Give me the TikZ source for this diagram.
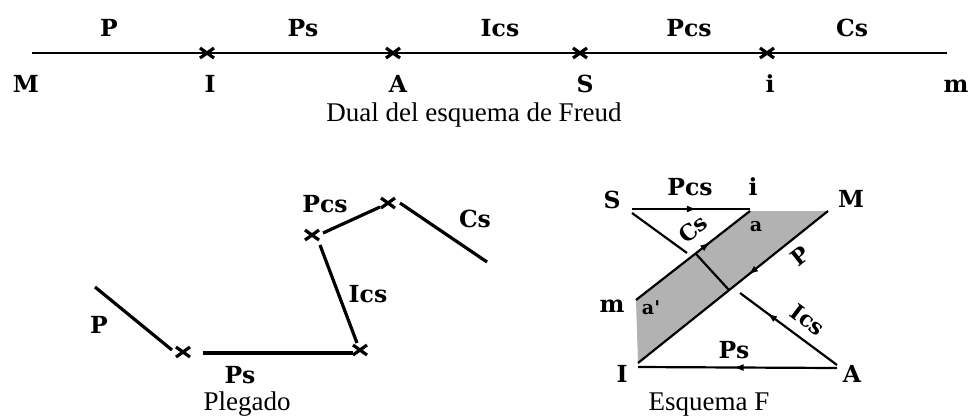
\documentclass[tikz,border=0pt]{standalone}
\usepackage{fontspec}
\setmainfont{Liberation Serif}
\newfontfamily\labfont{DejaVu Serif}
\usetikzlibrary{arrows.meta,decorations.markings}
\begin{document}
\begin{tikzpicture}[x=1pt,y=-1pt,
  lab/.style={font=\labfont\bfseries\fontsize{23.5}{23.5}\selectfont, anchor=base, inner sep=0pt},
  rotlab/.style={font=\labfont\bfseries\fontsize{22}{22}\selectfont, inner sep=0pt},
  smalllab/.style={font=\labfont\bfseries\fontsize{19}{19}\selectfont, anchor=base, inner sep=0pt},
  captext/.style={font=\fontsize{27}{27}\selectfont, anchor=base, inner sep=0pt},
  thinline/.style={line width=2pt},
  foldline/.style={line width=3.2pt},
  fline/.style={line width=2.2pt},
  xmark/.pic={\draw[line width=3.2pt] (-7,-5) -- (7,5) (-7,5) -- (7,-5);},
  midarrow/.style={postaction={decorate}, decoration={markings,
      mark=at position #1 with {\arrow{Latex[length=10pt,width=7pt]}}}}
]
\useasboundingbox (0,0) rectangle (971,416);

% ---------- Dual del esquema de Freud ----------
\coordinate (L0) at (32,53);
\coordinate (L1) at (207,53);
\coordinate (L2) at (393,53);
\coordinate (L3) at (580,53);
\coordinate (L4) at (767,53);
\coordinate (L5) at (947,53);
\draw[thinline] (L0) -- (L5);
\foreach \c in {L1,L2,L3,L4} \pic at (\c) {xmark};
\node[lab] (tP)   at (109,36) {P};
\node[lab] (tPs)  at (303,36) {Ps};
\node[lab] (tIcs) at (500,36) {Ics};
\node[lab] (tPcs) at (689,36) {Pcs};
\node[lab] (tCs)  at (852,36) {Cs};
\node[lab] (bM) at (26,92) {M};
\node[lab] (bI) at (210,92) {I};
\node[lab] (bA) at (398,92) {A};
\node[lab] (bS) at (585,92) {S};
\node[lab] (bi) at (770,92) {i};
\node[lab] (bm) at (956,92) {m};
\node[captext] (c1) at (474,121) {Dual del esquema de Freud};

% ---------- Plegado ----------
\coordinate (p0) at (95,287);
\coordinate (p1) at (172,350);
\coordinate (x1) at (183,352);
\coordinate (p2) at (203,353);
\coordinate (p3) at (353,353);
\coordinate (x2) at (360,350);
\coordinate (p4) at (357,343);
\coordinate (p5) at (320,245);
\coordinate (x3) at (312,235);
\coordinate (p6) at (323,233);
\coordinate (p7) at (380,207);
\coordinate (x4) at (388,203);
\coordinate (p8) at (400,203);
\coordinate (p9) at (487,262);
\draw[foldline] (p0) -- (p1);
\draw[foldline] (p2) -- (p3);
\draw[foldline] (p4) -- (p5);
\draw[foldline] (p6) -- (p7);
\draw[foldline] (p8) -- (p9);
\foreach \c in {x1,x2,x3,x4} \pic at (\c) {xmark};
\node[lab] (gP)   at (99,333) {P};
\node[lab] (gPs)  at (240,383) {Ps};
\node[lab] (gIcs) at (368,302) {Ics};
\node[lab] (gPcs) at (325,212) {Pcs};
\node[lab] (gCs)  at (475,227) {Cs};
\node[captext] (c2) at (247,410) {Plegado};

% ---------- Esquema F ----------
\coordinate (S0) at (632,209);
\coordinate (i0) at (750,209);
\coordinate (Mm) at (828,211);
\coordinate (m0) at (636,300);
\coordinate (I0) at (638,363);
\coordinate (I1) at (638,367);
\coordinate (A0) at (837,368);
\coordinate (A1) at (837,365);
\coordinate (J0) at (740,293);
\coordinate (Sd) at (687,253);
\coordinate (b1) at (696,254);
\coordinate (b2) at (729,290);
\fill[gray!60] (m0) -- (750,211) -- (Mm) -- (I0) -- cycle;
\draw[fline, midarrow=0.55] (S0) -- (i0);
\draw[fline] (632,213) -- (Sd);
\draw[fline, midarrow=0.65] (m0) -- (750,211);
\draw[fline, midarrow=0.42] (Mm) -- (I0);
\draw[fline] (b1) -- (b2);
\draw[fline, midarrow=0.72] (A1) -- (J0);
\draw[fline, midarrow=0.52] (A0) -- (I1);
\node[lab] (fS)   at (612,208) {S};
\node[lab] (fPcs) at (690,195) {Pcs};
\node[lab] (fi)   at (753,195) {i};
\node[lab] (fM)   at (851,207) {M};
\node[lab] (fm)   at (612,312) {m};
\node[lab] (fI)   at (622,382) {I};
\node[lab] (fA)   at (852,382) {A};
\node[lab] (fPs)  at (734,358) {Ps};
\node[smalllab] (fa)  at (756,231) {a};
\node[smalllab] (fa2) at (651,314) {a'};
\node[rotlab, rotate=38] (fCs) at (693,229) {Cs};
\node[rotlab, rotate=38] (fP) at (800,256) {P};
\node[rotlab, rotate=-37] (fIcs) at (808,320) {Ics};
\node[captext] (c3) at (709,410) {Esquema F};
\end{tikzpicture}
\end{document}
